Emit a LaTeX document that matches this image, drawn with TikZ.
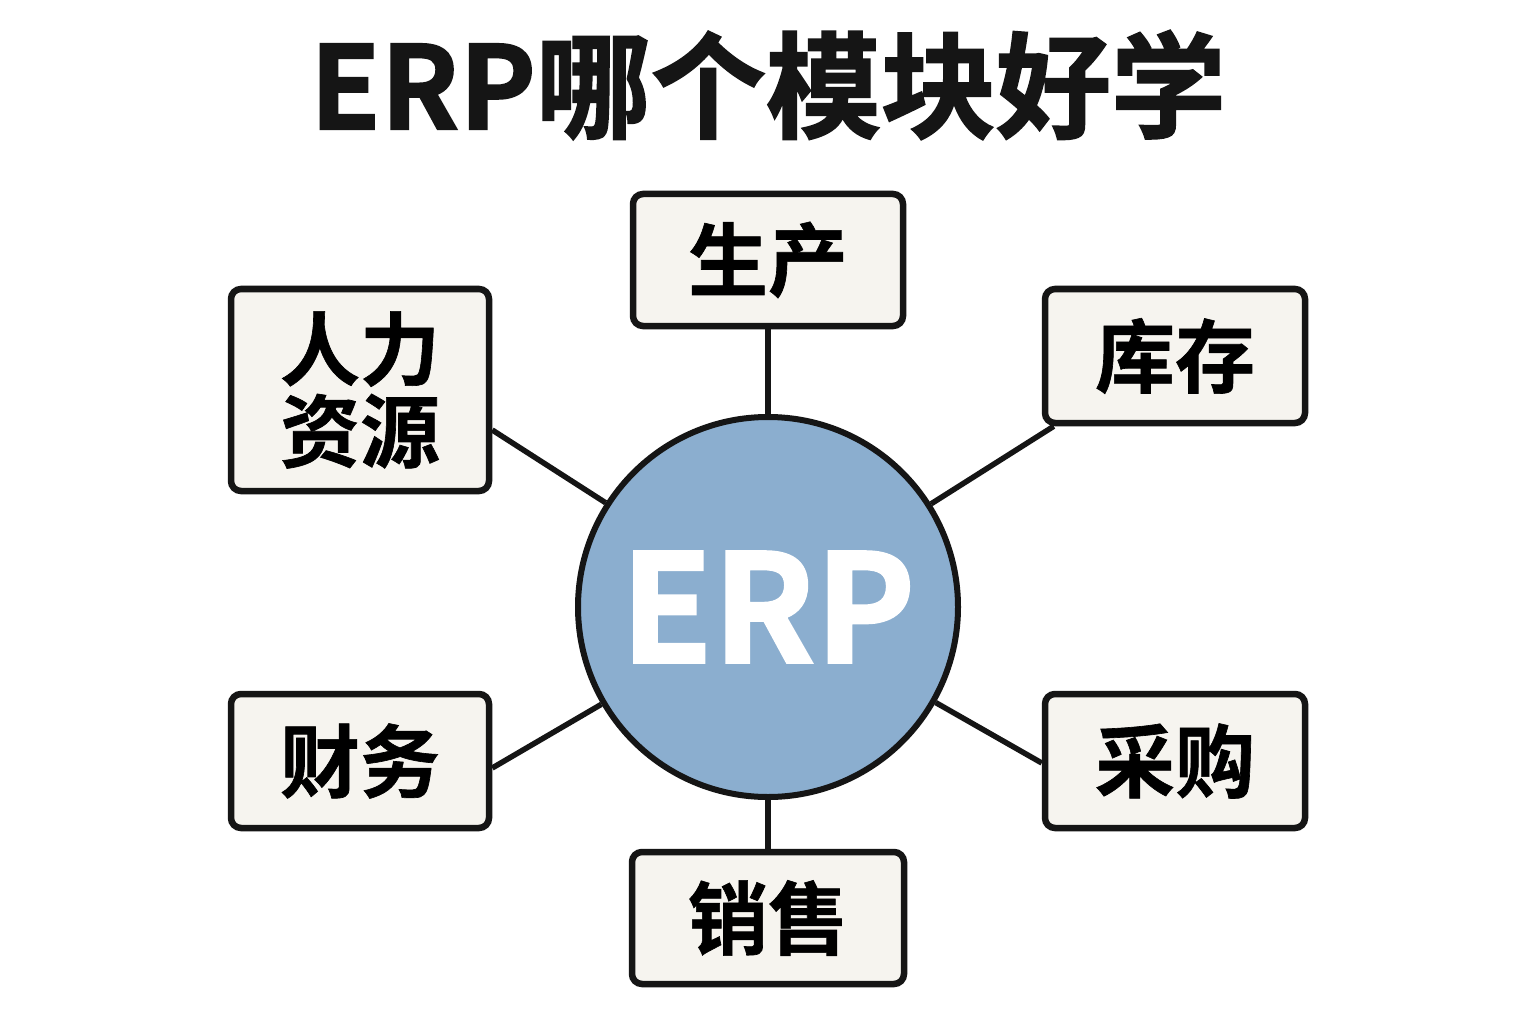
\documentclass[tikz,border=0pt]{standalone}
\usepackage{fontspec}
\setmainfont{Noto Sans CJK SC}[BoldFont={* Bold}]
\newfontfamily\heavy{Noto Sans CJK SC}[BoldFont={* Bold}, BoldFeatures={FakeBold=1.6}]
\newfontfamily\medheavy{Noto Sans CJK SC}[BoldFont={* Bold}, BoldFeatures={FakeBold=0.8}]
\usetikzlibrary{calc}
\definecolor{erpblue}{HTML}{8BAECF}
\definecolor{boxfill}{HTML}{F6F4EF}
\definecolor{ink}{HTML}{151515}
\tikzset{
  modbox/.style={draw=ink, line width=6.5pt, fill=boxfill, rounded corners=10pt,
    minimum width=270pt, minimum height=132pt, inner sep=0pt, align=center,
    font=\fontsize{80}{84}\medheavy\bfseries},
  hub/.style={circle, draw=ink, line width=6pt, fill=erpblue, minimum size=380pt,
    inner sep=0pt, text=white, font=\fontsize{150}{150}\heavy\bfseries},
  link/.style={draw=ink, line width=5.5pt},
}
\begin{document}
\begin{tikzpicture}[x=1pt,y=-1pt]
\useasboundingbox[fill=white] (0,0) rectangle (1536,1024);
\node[font=\fontsize{115}{115}\heavy\bfseries, text=ink] (title) at (768,85) {ERP哪个模块好学};
\node[hub] (erp) at (768,607) {ERP};
\node[modbox] (prod) at (768,260) {生产};
\node[modbox, minimum width=258pt, minimum height=202pt] (hr) at (360,390) {人力\\[-2pt]资源};
\node[modbox, minimum width=260pt, minimum height=134pt] (inv) at (1175,356) {库存};
\node[modbox, minimum width=258pt, minimum height=134pt] (fin) at (360,761) {财务};
\node[modbox, minimum width=260pt, minimum height=134pt] (pur) at (1175,761) {采购};
\node[modbox, minimum width=272pt, minimum height=132pt] (sal) at (768,918) {销售};
\coordinate (hrA) at ($(hr.east)+(0,40)$);
\coordinate (invA) at ($(inv.south west)+(12,0)$);
\coordinate (finA) at ($(fin.east)+(0,7)$);
\coordinate (purA) at ($(pur.west)+(0,2)$);
\draw[link] (prod.south) -- (erp);
\draw[link] (sal.north) -- (erp);
\draw[link] (hrA) -- (erp);
\draw[link] (invA) -- (erp);
\draw[link] (finA) -- (erp);
\draw[link] (purA) -- (erp);
\end{tikzpicture}
\end{document}
